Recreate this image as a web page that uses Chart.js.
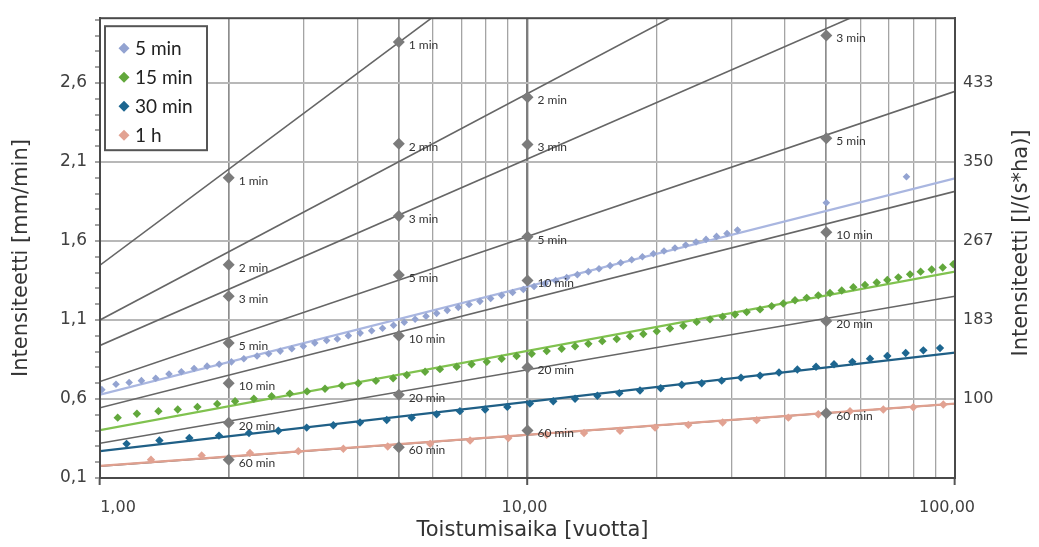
<!DOCTYPE html>
<html><head><meta charset="utf-8">
<script src="https://cdn.jsdelivr.net/npm/chart.js@4/dist/chart.umd.min.js"></script>
<style>html,body{margin:0;padding:0;background:#fff;}canvas{display:block;}</style>
</head><body>
<canvas id="c" width="1039" height="547"></canvas>
<script>
// ---- data ----
const seriesNames = ['5 min', '15 min', '30 min', '1 h'];

const t5min = [1.01,1.09,1.17,1.25,1.35,1.45,1.55,1.66,1.78,1.90,2.03,2.17,2.33,2.48,2.64,2.81,2.99,3.18,3.39,3.59,3.81,4.06,4.32,4.58,4.86,5.15,5.46,5.79,6.13,6.49,6.89,7.30,7.74,8.20,8.70,9.23,9.78,10.36,10.99,11.64,12.35,13.08,13.88,14.70,15.60,16.52,17.53,18.57,19.70,20.86,22.13,23.45,24.79,26.16,27.68,29.29,30.99,50,77];
const v5min = [0.659,0.693,0.704,0.716,0.731,0.758,0.772,0.793,0.808,0.820,0.835,0.855,0.872,0.886,0.903,0.918,0.934,0.955,0.970,0.980,1.001,1.017,1.032,1.048,1.067,1.086,1.105,1.124,1.142,1.161,1.180,1.198,1.218,1.236,1.256,1.274,1.293,1.312,1.330,1.349,1.368,1.387,1.406,1.424,1.444,1.462,1.481,1.500,1.519,1.537,1.556,1.575,1.594,1.610,1.629,1.647,1.669,1.842,2.007];

const t15min = [1.10,1.22,1.37,1.52,1.69,1.88,2.07,2.29,2.52,2.78,3.05,3.36,3.68,4.02,4.42,4.85,5.22,5.76,6.24,6.83,7.40,8.03,8.70,9.43,10.23,11.09,12.02,12.92,13.88,14.96,16.17,17.37,18.66,20.06,21.54,23.15,24.88,26.73,28.61,30.58,32.56,34.99,37.25,39.66,42.24,44.99,47.89,51.0,54.33,57.83,61.58,65.6,69.45,73.7,78.5,83.1,88.2,93.6,99.1];
const v15min = [0.482,0.507,0.523,0.534,0.550,0.569,0.586,0.602,0.617,0.634,0.648,0.665,0.685,0.700,0.715,0.731,0.752,0.772,0.789,0.804,0.820,0.835,0.855,0.872,0.886,0.903,0.918,0.934,0.949,0.966,0.980,0.997,1.011,1.028,1.046,1.063,1.088,1.104,1.121,1.135,1.150,1.167,1.188,1.204,1.225,1.240,1.256,1.271,1.287,1.308,1.322,1.337,1.353,1.370,1.389,1.406,1.420,1.432,1.453];

const t30min = [1.154,1.377,1.618,1.898,2.231,2.613,3.044,3.514,4.057,4.685,5.36,6.13,6.95,7.96,8.97,10.13,11.49,12.92,14.57,16.40,18.33,20.49,22.95,25.56,28.46,31.58,34.99,38.75,42.78,47.31,52.12,57.52,63.27,69.45,76.68,84.33,92.24];
const v30min = [0.316,0.337,0.353,0.368,0.385,0.399,0.419,0.434,0.451,0.467,0.482,0.503,0.523,0.534,0.550,0.571,0.586,0.602,0.621,0.637,0.654,0.668,0.690,0.700,0.716,0.735,0.748,0.768,0.787,0.804,0.820,0.835,0.855,0.872,0.891,0.908,0.922];

const t1h = [1.316,1.729,2.243,2.91,3.709,4.71,5.92,7.34,9.02,11.09,13.56,16.46,19.88,23.78,28.61,34.36,40.75,47.89,56.81,67.97,79.89,93.91];
const v1h = [0.216,0.243,0.258,0.270,0.285,0.299,0.316,0.337,0.353,0.374,0.385,0.399,0.419,0.436,0.451,0.466,0.482,0.503,0.523,0.534,0.548,0.565];

// fitted trend lines of the four series: value at T=1 and T=100
const fitAtT1   = [0.627, 0.403, 0.270, 0.177];
const fitAtT100 = [1.997, 1.406, 0.893, 0.571];

// grey duration lines
const durNames   = ['1 min','2 min','3 min','5 min','10 min','20 min','60 min'];
const durAtT1    = [1.447, 1.100, 0.939, 0.710, 0.544, 0.320, 0.175];
const durAtT100  = [5.480, 3.966, 3.300, 2.547, 1.914, 1.250, 0.570];

// grey reference points at return periods 2, 5, 10, 50 (same order as durNames)
const refT    = [2, 5, 10, 50];
const refAt2  = [2.00, 1.45, 1.25, 0.955, 0.70, 0.45, 0.216];
const refAt5  = [2.86, 2.215, 1.758, 1.385, 1.00, 0.627, 0.295];
const refAt10 = [null, 2.51, 2.21, 1.627, 1.35, 0.80, 0.40];
const refAt50 = [null, null, 2.90, 2.25, 1.655, 1.094, 0.51];

// axes
const xMin = 1, xMax = 100;
const xTickValues = [1, 10, 100];
const xTickLabels = ['1,00', '10,00', '100,00'];
const yMin = 0.1, yMax = 3.01;
const yMajorTicks = [0.1, 0.6, 1.1, 1.6, 2.1, 2.6];
const yTickLabels = ['0,1', '0,6', '1,1', '1,6', '2,1', '2,6'];
const yRightLabels = ['', '100', '183', '267', '350', '433'];
const xTitle = 'Toistumisaika [vuotta]';
const yTitle = 'Intensiteetti [mm/min]';
const y2Title = 'Intensiteetti [l/(s*ha)]';

// ---- styling ----
const pointColors = ['#93a3d1', '#62a83c', '#1d6690', '#e2a292'];
const lineColors  = ['#a9b6e0', '#80c24f', '#1f5f86', '#e0a08f'];
const pointRadii  = [3.8, 4.2, 4.2, 4.2];
const greyLine = '#666666';
const greyPoint = '#7b7b7b';
const xLabelShift = [18, -3, -8];

// ---- build datasets ----
const refCols = [refAt2, refAt5, refAt10, refAt50];
const refPoints = [];
refCols.forEach((col, c) => col.forEach((v, d) => {
  if (v !== null) refPoints.push({x: refT[c], y: v, lbl: durNames[d]});
}));

const seriesT = [t5min, t15min, t30min, t1h];
const seriesV = [v5min, v15min, v30min, v1h];

const datasets = [];
datasets.push({
  label: 'ref', data: refPoints, pointStyle: 'rectRot', pointRadius: 6,
  backgroundColor: greyPoint, borderColor: greyPoint, borderWidth: 0, showLine: false
});
seriesNames.forEach((n, i) => {
  datasets.push({
    label: n, data: seriesT[i].map((t, k) => ({x: t, y: seriesV[i][k]})),
    pointStyle: 'rectRot', pointRadius: pointRadii[i],
    backgroundColor: pointColors[i], borderColor: pointColors[i], borderWidth: 0, showLine: false
  });
});
seriesNames.forEach((n, i) => {
  datasets.push({
    label: n + ' fit', data: [{x: xMin, y: fitAtT1[i]}, {x: xMax, y: fitAtT100[i]}],
    showLine: true, pointRadius: 0, borderColor: lineColors[i], borderWidth: 2.2, fill: false
  });
});
durNames.forEach((n, i) => {
  datasets.push({
    label: n + ' line', data: [{x: xMin, y: durAtT1[i]}, {x: xMax, y: durAtT100[i]}],
    showLine: true, pointRadius: 0, borderColor: greyLine, borderWidth: 1.6, fill: false
  });
});

const near = (a, b) => Math.abs(a - b) < 1e-6;
const majorIdx = v => yMajorTicks.findIndex(m => near(m, v));

const decoPlugin = {
  id: 'deco',
  afterDatasetsDraw(chart) {
    const {ctx, chartArea: a, scales} = chart;
    ctx.save();
    // frame
    ctx.strokeStyle = '#4a4a4a'; ctx.lineWidth = 2;
    ctx.strokeRect(a.left, a.top, a.right - a.left, a.bottom - a.top);
    // reference labels
    const meta = chart.getDatasetMeta(0);
    ctx.fillStyle = '#333'; ctx.font = '12px Lato';
    ctx.textAlign = 'left'; ctx.textBaseline = 'middle';
    meta.data.forEach((el, i) => {
      ctx.fillText(refPoints[i].lbl, el.x + 10, el.y + 3);
    });
    // x tick labels
    ctx.fillStyle = '#404040'; ctx.font = '16px "DejaVu Sans"';
    ctx.textAlign = 'center'; ctx.textBaseline = 'middle';
    xTickValues.forEach((v, i) => {
      const px = scales.x.getPixelForValue(v) + xLabelShift[i];
      ctx.fillText(xTickLabels[i], px, a.bottom + 30);
    });
    // titles
    ctx.fillStyle = '#333'; ctx.font = '21px "DejaVu Sans"';
    ctx.fillText(xTitle, (a.left + a.right) / 2 + 5, a.bottom + 53);
    ctx.save(); ctx.translate(22, 258); ctx.rotate(-Math.PI / 2);
    ctx.fillText(yTitle, 0, 0); ctx.restore();
    ctx.save(); ctx.translate(1022, 243); ctx.rotate(-Math.PI / 2);
    ctx.fillText(y2Title, 0, 0); ctx.restore();
    // legend
    const lx = a.left + 5, ly = a.top + 8, lw = 102, lh = 124;
    ctx.fillStyle = '#fff'; ctx.fillRect(lx, ly, lw, lh);
    ctx.strokeStyle = '#555'; ctx.lineWidth = 2; ctx.strokeRect(lx, ly, lw, lh);
    ctx.font = '19px Lato'; ctx.textAlign = 'left'; ctx.textBaseline = 'middle';
    seriesNames.forEach((n, i) => {
      const cy = ly + 22 + i * 29, cx = lx + 19, r = 5.5;
      ctx.fillStyle = pointColors[i];
      ctx.beginPath(); ctx.moveTo(cx, cy - r); ctx.lineTo(cx + r, cy); ctx.lineTo(cx, cy + r); ctx.lineTo(cx - r, cy); ctx.closePath(); ctx.fill();
      ctx.fillStyle = '#222'; ctx.fillText(n, lx + 30, cy + 1);
    });
    ctx.restore();
  }
};

new Chart(document.getElementById('c'), {
  type: 'scatter',
  data: {datasets},
  plugins: [decoPlugin],
  options: {
    responsive: false, animation: false, devicePixelRatio: 1,
    layout: {padding: {left: 0, right: 0, top: 10, bottom: 0}},
    plugins: {legend: {display: false}, tooltip: {enabled: false}},
    scales: {
      x: {
        type: 'logarithmic', min: xMin, max: xMax,
        afterBuildTicks: s => {
          const t = [];
          [1, 10].forEach(d => { for (let k = 1; k <= 9; k++) t.push({value: k * d}); });
          t.push({value: 100});
          s.ticks = t;
        },
        afterFit: s => { s.height = 69; },
        ticks: {display: false, autoSkip: false},
        grid: {
          color: c => { const v = c.tick && c.tick.value; return v === 10 ? '#7d7d7d' : ([2, 5, 50].includes(v) ? '#8d8d8d' : '#a4a4a4'); },
          lineWidth: c => { const v = c.tick && c.tick.value; return v === 10 ? 2.4 : ([2, 5, 50].includes(v) ? 1.7 : 1.3); },
          tickColor: c => { const v = c.tick && c.tick.value; return xTickValues.includes(v) ? '#555' : 'rgba(0,0,0,0)'; },
          tickLength: 7, tickWidth: 2
        },
        border: {color: '#444', width: 2}
      },
      y: {
        type: 'linear', position: 'left', min: yMin, max: yMax,
        afterBuildTicks: s => {
          const t = [];
          for (let k = 1; k <= 30; k++) t.push({value: k / 10});
          s.ticks = t;
        },
        afterFit: s => { s.width = 100; },
        ticks: {
          autoSkip: false, padding: 8, color: '#404040',
          font: {family: 'DejaVu Sans', size: 17},
          callback: v => { const i = majorIdx(v); return i >= 0 ? yTickLabels[i] : ''; }
        },
        grid: {
          color: c => (c.tick && majorIdx(c.tick.value) >= 0) ? '#b8b8b8' : 'rgba(0,0,0,0)',
          lineWidth: 2,
          tickColor: '#666', tickLength: 5, tickWidth: 1.2
        },
        border: {color: '#444', width: 2}
      },
      y2: {
        type: 'linear', position: 'right', min: yMin, max: yMax,
        afterBuildTicks: s => { s.ticks = yMajorTicks.map(v => ({value: v})); },
        afterFit: s => { s.width = 84; },
        ticks: {
          autoSkip: false, padding: 8, color: '#404040',
          font: {family: 'DejaVu Sans', size: 16},
          callback: v => { const i = majorIdx(v); return i >= 0 ? yRightLabels[i] : ''; }
        },
        grid: {display: false, drawTicks: false},
        border: {color: '#4a4a4a', width: 2}
      }
    }
  }
});
</script>
</body></html>
